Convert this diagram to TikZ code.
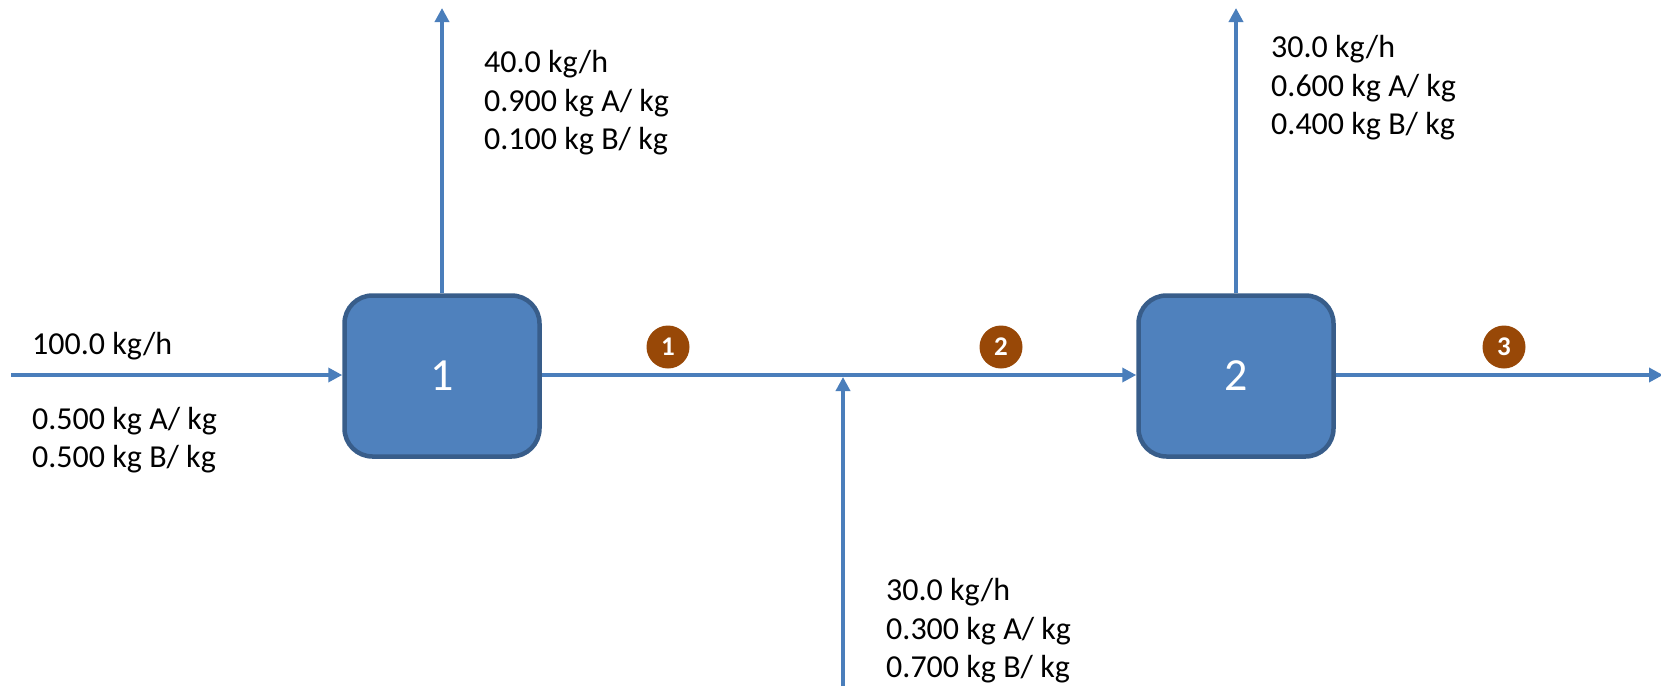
\documentclass[tikz,border=0pt]{standalone}
\usepackage{fontspec}
\setmainfont{Carlito}
\usetikzlibrary{arrows.meta}
\definecolor{lineblue}{HTML}{4A7EBB}
\definecolor{boxfill}{HTML}{4F81BD}
\definecolor{boxedge}{HTML}{385D8A}
\definecolor{tagfill}{HTML}{984807}
\tikzset{
  unit/.style={draw=boxedge, line width=4.5pt, fill=boxfill, rounded corners=28pt,
    minimum width=195pt, minimum height=161pt, text=white,
    font=\fontsize{46}{52}\selectfont},
  flow/.style={draw=lineblue, line width=4pt, -{Triangle[length=14pt,width=14pt]}},
  lbl/.style={anchor=west, inner sep=0pt, align=left, font=\fontsize{32}{38.5}\selectfont},
  tag/.style={circle, fill=tagfill, minimum size=43pt, inner sep=0pt, text=white,
    font=\bfseries\fontsize{27}{30}\selectfont}
}
\begin{document}
\begin{tikzpicture}[x=1pt,y=-1pt]
\useasboundingbox (0,0) rectangle (1661,686);
\node[unit] (u1) at (442,376) {1};
\node[unit] (u2) at (1236,376) {2};
\coordinate (in) at (11,375);
\coordinate (top1) at (442,8);
\coordinate (top2) at (1236,8);
\coordinate (feed) at (843,686);
\coordinate (mix) at (843,377);
\coordinate (out) at (1663,375);
\draw[flow] (in) -- (u1.west |- in);
\draw[flow] (u1.north) -- (top1);
\draw[flow] (u1.east |- in) -- (u2.west |- in);
\draw[flow] (feed) -- (mix);
\draw[flow] (u2.north) -- (top2);
\draw[flow] (u2.east |- out) -- (out);
\node[tag] (t1) at (668,347) {1};
\node[tag] (t2) at (1001,347) {2};
\node[tag] (t3) at (1504,347) {3};
\node[lbl] (l0) at (32,346) {100.0 kg/h};
\node[lbl] (l0b) at (32,440) {0.500 kg A/ kg\\0.500 kg B/ kg};
\node[lbl] (l1) at (484,103) {40.0 kg/h\\0.900 kg A/ kg\\0.100 kg B/ kg};
\node[lbl] (l2) at (1271,88) {30.0 kg/h\\0.600 kg A/ kg\\0.400 kg B/ kg};
\node[lbl] (l3) at (886,631) {30.0 kg/h\\0.300 kg A/ kg\\0.700 kg B/ kg};
\end{tikzpicture}
\end{document}
